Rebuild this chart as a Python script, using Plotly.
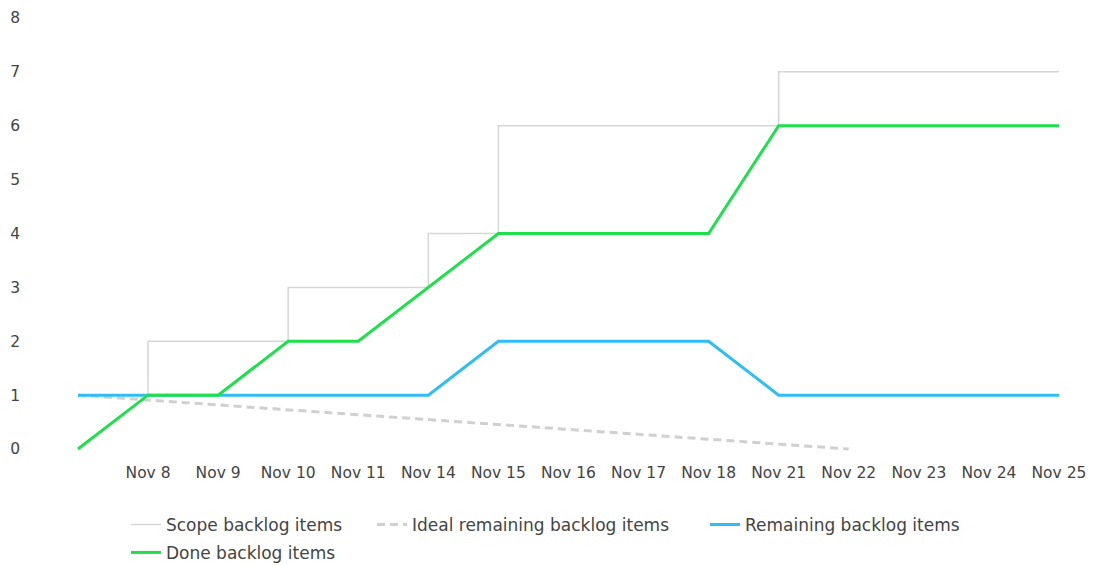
import plotly.graph_objects as go

categories = ["", "Nov 8", "Nov 9", "Nov 10", "Nov 11", "Nov 14", "Nov 15", "Nov 16",
              "Nov 17", "Nov 18", "Nov 21", "Nov 22", "Nov 23", "Nov 24", "Nov 25"]
scope = [1, 2, 2, 3, 3, 4, 6, 6, 6, 6, 7, 7, 7, 7, 7]
ideal = [1.0, 0.91, 0.82, 0.73, 0.64, 0.55, 0.45, 0.36, 0.27, 0.18, 0.09, 0.0]
remaining = [1, 1, 1, 1, 1, 1, 2, 2, 2, 2, 1, 1, 1, 1, 1]
done = [0, 1, 1, 2, 2, 3, 4, 4, 4, 4, 6, 6, 6, 6, 6]

idx = list(range(len(categories)))

FONT = "DejaVu Sans"
TXT = "#444444"

fig = go.Figure()
fig.add_trace(go.Scatter(x=idx, y=scope, mode="lines", line=dict(color="#d6d6d6", width=1.5, shape="hv"),
                         name="Scope backlog items", legend="legend", showlegend=True))
fig.add_trace(go.Scatter(x=idx[:len(ideal)], y=ideal, mode="lines",
                         line=dict(color="#d0d0d0", width=3, dash="8px,5px"),
                         name="Ideal remaining backlog items", legend="legend2", showlegend=True))
fig.add_trace(go.Scatter(x=idx, y=remaining, mode="lines", line=dict(color="#2ebef5", width=3),
                         name="Remaining backlog items", legend="legend3", showlegend=True))
fig.add_trace(go.Scatter(x=idx, y=done, mode="lines", line=dict(color="#1ee04a", width=3),
                         name="Done backlog items", legend="legend4", showlegend=True))

leg_common = dict(orientation="h", yanchor="middle", xanchor="left", bgcolor="rgba(0,0,0,0)",
                  font=dict(family=FONT, size=17, color=TXT))

fig.update_layout(
    width=1079, height=557,
    showlegend=True,
    margin=dict(l=17, r=7, t=2, b=110, autoexpand=False),
    paper_bgcolor="white", plot_bgcolor="white",
    font=dict(family=FONT, size=15.5, color=TXT),
    xaxis=dict(range=[-0.756, 14.30], tickmode="array", tickvals=idx, ticktext=categories,
               showgrid=False, zeroline=False, showline=False, ticks="", automargin=False,
               ticklabelstandoff=6, ticklabeloverflow="allow"),
    yaxis=dict(range=[-0.111, 8.148], tickmode="array", tickvals=list(range(9)),
               showgrid=False, zeroline=False, showline=False, ticks="", automargin=False,
               ticklabelstandoff=4, ticklabeloverflow="allow"),
    legend=dict(x=0.0957, y=-0.157, **leg_common),
    legend2=dict(x=0.3289, y=-0.157, **leg_common),
    legend3=dict(x=0.6445, y=-0.157, **leg_common),
    legend4=dict(x=0.0957, y=-0.220, **leg_common),
)

fig.write_html("out.html")
